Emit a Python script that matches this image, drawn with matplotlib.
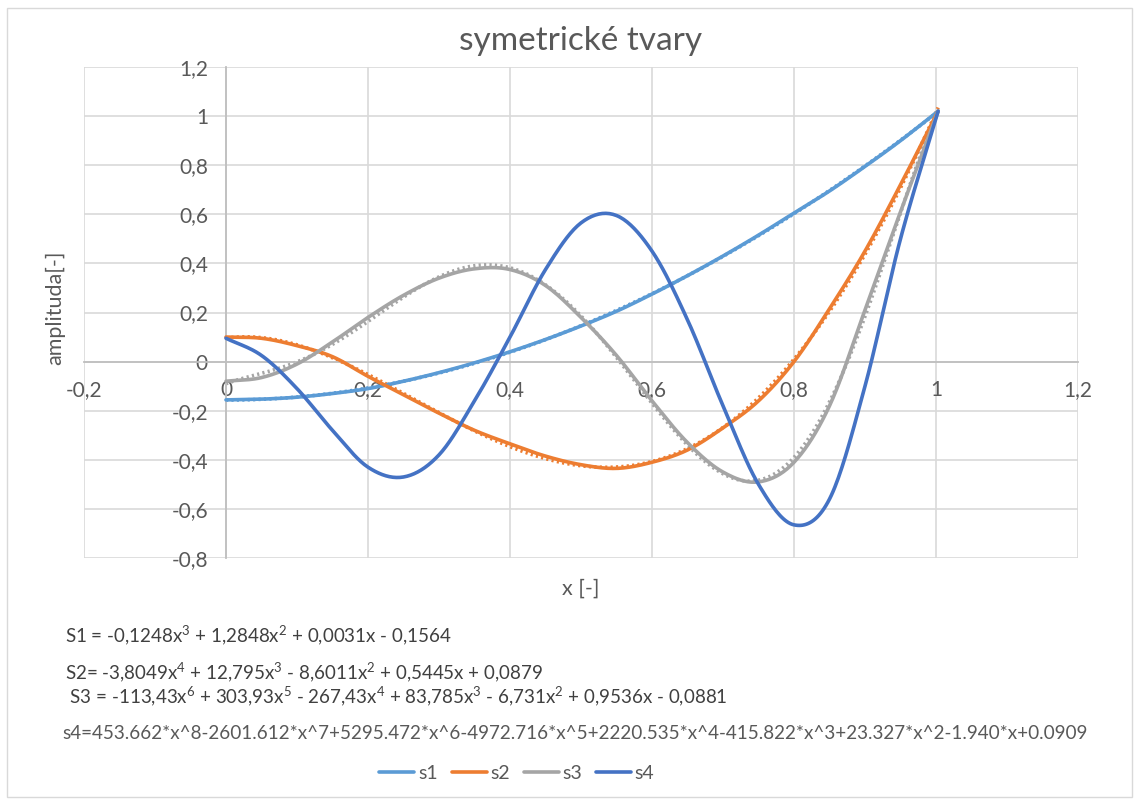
import numpy as np
import matplotlib.pyplot as plt
from matplotlib.lines import Line2D
from matplotlib.patches import Rectangle
from matplotlib.ticker import FuncFormatter, MultipleLocator

plt.rcParams['font.family'] = ['Lato', 'DejaVu Sans']
plt.rcParams['mathtext.fontset'] = 'custom'
plt.rcParams['mathtext.rm'] = 'Lato'

# values
x = [0, 0.05, 0.1, 0.15, 0.2, 0.25, 0.3, 0.35, 0.4, 0.45, 0.5,
     0.55, 0.6, 0.65, 0.7, 0.75, 0.8, 0.85, 0.9, 0.95, 1.003]
s1 = [-0.156, -0.153, -0.145, -0.13, -0.11, -0.08, -0.045, -0.005, 0.04, 0.09, 0.145,
      0.205, 0.275, 0.35, 0.43, 0.515, 0.605, 0.695, 0.795, 0.9, 1.02]
s2 = [0.10, 0.095, 0.065, 0.02, -0.06, -0.135, -0.21, -0.28, -0.335, -0.385, -0.42,
      -0.435, -0.41, -0.36, -0.27, -0.16, 0.0, 0.215, 0.45, 0.72, 1.02]
s3 = [-0.08, -0.065, -0.01, 0.08, 0.18, 0.27, 0.34, 0.378, 0.375, 0.31, 0.18,
      0.025, -0.16, -0.33, -0.45, -0.49, -0.41, -0.18, 0.21, 0.61, 1.02]
s4 = [0.095, 0.025, -0.11, -0.28, -0.43, -0.47, -0.38, -0.16, 0.1, 0.375, 0.565,
      0.595, 0.45, 0.17, -0.18, -0.5, -0.665, -0.56, -0.1, 0.5, 1.02]
names = ['s1', 's2', 's3', 's4']
colors = ['#5B9BD5', '#ED7D31', '#A5A5A5', '#4472C4']
trend_deg = [3, 4, 6, None]

eqs = ['S1 = -0,1248x$^3$ + 1,2848x$^2$ + 0,0031x - 0,1564',
       'S2= -3,8049x$^4$ + 12,795x$^3$ - 8,6011x$^2$ + 0,5445x + 0,0879',
       ' S3 = -113,43x$^6$ + 303,93x$^5$ - 267,43x$^4$ + 83,785x$^3$ - 6,731x$^2$ + 0,9536x - 0,0881',
       's4=453.662*x^8-2601.612*x^7+5295.472*x^6-4972.716*x^5+2220.535*x^4-415.822*x^3+23.327*x^2-1.940*x+0.0909']


def smooth(xs, ys, n=20):
    # catmull-rom like excel's smoothed line
    xs = np.asarray(xs, float); ys = np.asarray(ys, float)
    px = np.concatenate([[2*xs[0]-xs[1]], xs, [2*xs[-1]-xs[-2]]])
    py = np.concatenate([[2*ys[0]-ys[1]], ys, [2*ys[-1]-ys[-2]]])
    outx, outy = [], []
    t = np.linspace(0, 1, n, endpoint=False)
    for i in range(1, len(px)-2):
        for p, out in ((px, outx), (py, outy)):
            p0, p1, p2, p3 = p[i-1], p[i], p[i+1], p[i+2]
            out.extend(0.5*((2*p1) + (-p0+p2)*t + (2*p0-5*p1+4*p2-p3)*t**2 + (-p0+3*p1-3*p2+p3)*t**3))
    outx.append(xs[-1]); outy.append(ys[-1])
    return np.array(outx), np.array(outy)


fig = plt.figure(figsize=(11.4, 8.05), dpi=100)
ax = fig.add_axes([84/1140, 1-558/805, 994/1140, 491/805])
fig.patches.append(Rectangle((7/1140, 8/805), 1125/1140, 789/805, transform=fig.transFigure,
                             fill=False, edgecolor='#d9d9d9', lw=1))

handles = []
for ys, name, c, deg in zip([s1, s2, s3, s4], names, colors, trend_deg):
    sx, sy = smooth(x, ys)
    ax.plot(sx, sy, color=c, lw=2.6, zorder=3, solid_capstyle='round')
    if deg:
        coef = np.polyfit(x, ys, deg)
        tx = np.linspace(x[0], x[-1], 200)
        ax.plot(tx, np.polyval(coef, tx), color=c, lw=2.6, ls=(0, (0.6, 0.9)), zorder=2)
    handles.append(Line2D([], [], color=c, lw=2.6, solid_capstyle='round'))

ax.set_xlim(-0.2, 1.2)
ax.set_ylim(-0.8, 1.2)
ax.xaxis.set_major_locator(MultipleLocator(0.2))
ax.yaxis.set_major_locator(MultipleLocator(0.2))
fmt = FuncFormatter(lambda v, p: f"{round(v, 1):g}".replace('.', ','))
ax.xaxis.set_major_formatter(fmt)
ax.yaxis.set_major_formatter(fmt)
ax.grid(True, color='#d9d9d9', lw=1.2, zorder=0)
ax.set_axisbelow(True)
for s in ['top', 'right']:
    ax.spines[s].set_visible(False)
ax.spines['bottom'].set_position(('data', 0))
ax.spines['left'].set_position(('data', 0))
ax.spines['bottom'].set_color('#bfbfbf')
ax.spines['left'].set_color('#bfbfbf')
ax.spines['bottom'].set_linewidth(1.3)
ax.spines['left'].set_linewidth(1.3)
ax.tick_params(length=0, labelsize=15, colors='#595959')
ax.tick_params(axis='x', pad=13)
ax.tick_params(axis='y', pad=13)

ax.set_title('symetrické tvary', fontsize=24, color='#595959', pad=12)
ax.set_xlabel('x [-]', fontsize=15.5, color='#595959')
ax.set_ylabel('amplituda[-]', fontsize=15.5, color='#595959')
ax.xaxis.set_label_coords(0.5, -0.042)
ax.yaxis.set_label_coords(-0.019, 0.51)

tc = '#404040'
fig.text(65/1140, 1-636/805, eqs[0], fontsize=13.5, color=tc, va='center')
fig.text(65/1140, 1-673/805, eqs[1], fontsize=13.5, color=tc, va='center')
fig.text(65/1140, 1-697/805, eqs[2], fontsize=13.5, color=tc, va='center')
fig.text(62/1140, 1-733/805, eqs[3], fontsize=13.6, color='#595959', va='center')

fig.legend(handles, names, loc='center', bbox_to_anchor=(517/1140, 1-773/805), ncol=4,
           frameon=False, fontsize=14, labelcolor='#595959', handlelength=1.8,
           columnspacing=0.7, handletextpad=0.2)

fig.savefig('out.png', dpi=100)
